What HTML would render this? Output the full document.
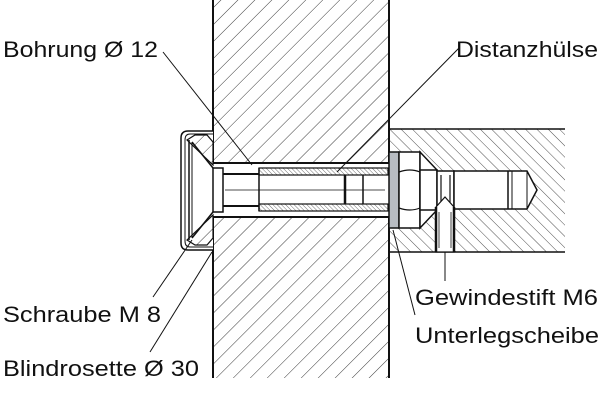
<!DOCTYPE html>
<html><head><meta charset="utf-8"><style>
html,body{margin:0;padding:0;background:#fff;}
svg{display:block;}
text{font-family:"Liberation Sans",Arial,sans-serif;font-size:22px;fill:#111;}
</style></head><body>
<svg width="603" height="413" viewBox="0 0 603 413" xmlns="http://www.w3.org/2000/svg">
<defs>
<pattern id="hw" patternUnits="userSpaceOnUse" width="12" height="12" patternTransform="rotate(45)">
<line x1="0" y1="0" x2="0" y2="12" stroke="#222" stroke-width="0.9"/></pattern>
<pattern id="hr" patternUnits="userSpaceOnUse" width="8" height="8" patternTransform="rotate(-45)">
<line x1="0" y1="0" x2="0" y2="8" stroke="#222" stroke-width="0.8"/></pattern>
<pattern id="hs" patternUnits="userSpaceOnUse" width="3" height="3" patternTransform="rotate(-45)">
<line x1="0" y1="0" x2="0" y2="3" stroke="#333" stroke-width="0.7"/></pattern>
</defs>
<g stroke="#111" fill="none">
<!-- wall -->
<rect x="213" y="0" width="176" height="378" fill="url(#hw)" stroke="none"/>
<line x1="213" y1="0" x2="213" y2="378" stroke-width="2"/>
<line x1="389" y1="0" x2="389" y2="378" stroke-width="2"/>
<!-- right block -->
<rect x="389" y="129" width="176" height="123" fill="url(#hr)" stroke="none"/>
<line x1="389" y1="129" x2="565" y2="129" stroke-width="1.5"/>
<line x1="389" y1="252" x2="565" y2="252" stroke-width="1.5"/>
<!-- bore -->
<rect x="213" y="163" width="176" height="54" fill="#fff" stroke="none"/>
<line x1="213" y1="163" x2="389" y2="163" stroke-width="2"/>
<line x1="213" y1="217" x2="389" y2="217" stroke-width="2"/>
<!-- rosette -->
<rect x="181" y="131" width="32" height="119" fill="#fff" stroke="none"/>
<path d="M213 131 H188 Q181 131 181 138 V243 Q181 250 188 250 H213" stroke-width="1.5"/>
<path d="M213 134 H190 Q185 134 185 140 V241 Q185 247 190 247 H213" stroke-width="1"/>
<polygon points="187,140 195,135 207,135 213,142 213,165" fill="url(#hw)" stroke-width="1.2"/>
<polygon points="187,240 195,245 207,245 213,238 213,215" fill="url(#hw)" stroke-width="1.2"/>
<line x1="189" y1="140" x2="189" y2="240" stroke-width="1.5"/>
<line x1="192" y1="142" x2="213" y2="168" stroke-width="1.5"/>
<line x1="192" y1="238" x2="213" y2="212" stroke-width="1.5"/>
<line x1="192" y1="142" x2="192" y2="238" stroke-width="1"/>
<!-- screw -->
<rect x="213" y="168" width="10" height="44" stroke-width="1.5" fill="#fff"/>
<line x1="223" y1="174" x2="259" y2="174" stroke-width="2"/>
<line x1="223" y1="206" x2="259" y2="206" stroke-width="2"/>
<line x1="225" y1="190" x2="385" y2="190" stroke-width="0.8"/>
<!-- sleeve -->
<rect x="259" y="168" width="129" height="7" fill="url(#hs)" stroke-width="1.2"/>
<rect x="259" y="204" width="129" height="7" fill="url(#hs)" stroke-width="1.2"/>
<line x1="259" y1="168" x2="259" y2="211" stroke-width="1.5"/>
<line x1="345" y1="175" x2="345" y2="204" stroke-width="2.5"/>
<line x1="363" y1="175" x2="363" y2="204" stroke-width="1.5"/>
<!-- washer -->
<rect x="389" y="152" width="10" height="76" fill="#b8bcc2" stroke-width="1.5"/>
<!-- nut -->
<rect x="399" y="152" width="21" height="76" fill="#fff" stroke-width="1.5"/>
<path d="M399 172 Q410 168 420 172 M399 208 Q410 212 420 208" stroke-width="1.2"/>
<polygon points="420,152 437,170 437,210 420,228" fill="#fff" stroke-width="1.5"/>
<rect x="420" y="170" width="17" height="40" fill="#fff" stroke-width="1.5"/>
<!-- neck -->
<rect x="437" y="171" width="17" height="38" fill="#fff" stroke-width="1.5"/>
<line x1="441" y1="175" x2="441" y2="205" stroke-width="1.2"/>
<line x1="450" y1="175" x2="450" y2="205" stroke-width="1.2"/>
<!-- pin -->
<path d="M454 171 H527 L537 190 L527 209 H454 Z" fill="#fff" stroke-width="1.5"/>
<line x1="508" y1="171" x2="508" y2="209" stroke-width="1.5"/>
<line x1="512" y1="171" x2="512" y2="209" stroke-width="1"/>
<line x1="527" y1="171" x2="527" y2="209" stroke-width="1"/>
<!-- set screw -->
<path d="M436 252 V207 L445 197 L454 207 V252 Z" fill="#fff" stroke-width="1.2"/>
<line x1="436" y1="207" x2="436" y2="252" stroke-width="2.5"/>
<line x1="454" y1="207" x2="454" y2="252" stroke-width="2.5"/>
<line x1="439" y1="212" x2="439" y2="248" stroke-width="0.8"/>
<line x1="451" y1="212" x2="451" y2="248" stroke-width="0.8"/>
<!-- leaders -->
<g stroke-width="1">
<line x1="163" y1="52" x2="252" y2="165"/>
<line x1="459" y1="48" x2="337" y2="172"/>
<line x1="153" y1="297" x2="192" y2="240"/>
<line x1="150" y1="352" x2="212" y2="252"/>
<line x1="415" y1="315" x2="393" y2="230"/>
<line x1="445" y1="252" x2="445" y2="281"/>
</g>
</g>
<text x="3" y="57" textLength="155" lengthAdjust="spacingAndGlyphs">Bohrung Ø 12</text>
<text x="456" y="57" textLength="142" lengthAdjust="spacingAndGlyphs">Distanzhülse</text>
<text x="3" y="322" textLength="158" lengthAdjust="spacingAndGlyphs">Schraube M 8</text>
<text x="3" y="376" textLength="196" lengthAdjust="spacingAndGlyphs">Blindrosette Ø 30</text>
<text x="415" y="305" textLength="183" lengthAdjust="spacingAndGlyphs">Gewindestift M6</text>
<text x="415" y="343" textLength="184" lengthAdjust="spacingAndGlyphs">Unterlegscheibe</text>
</svg>
</body></html>
